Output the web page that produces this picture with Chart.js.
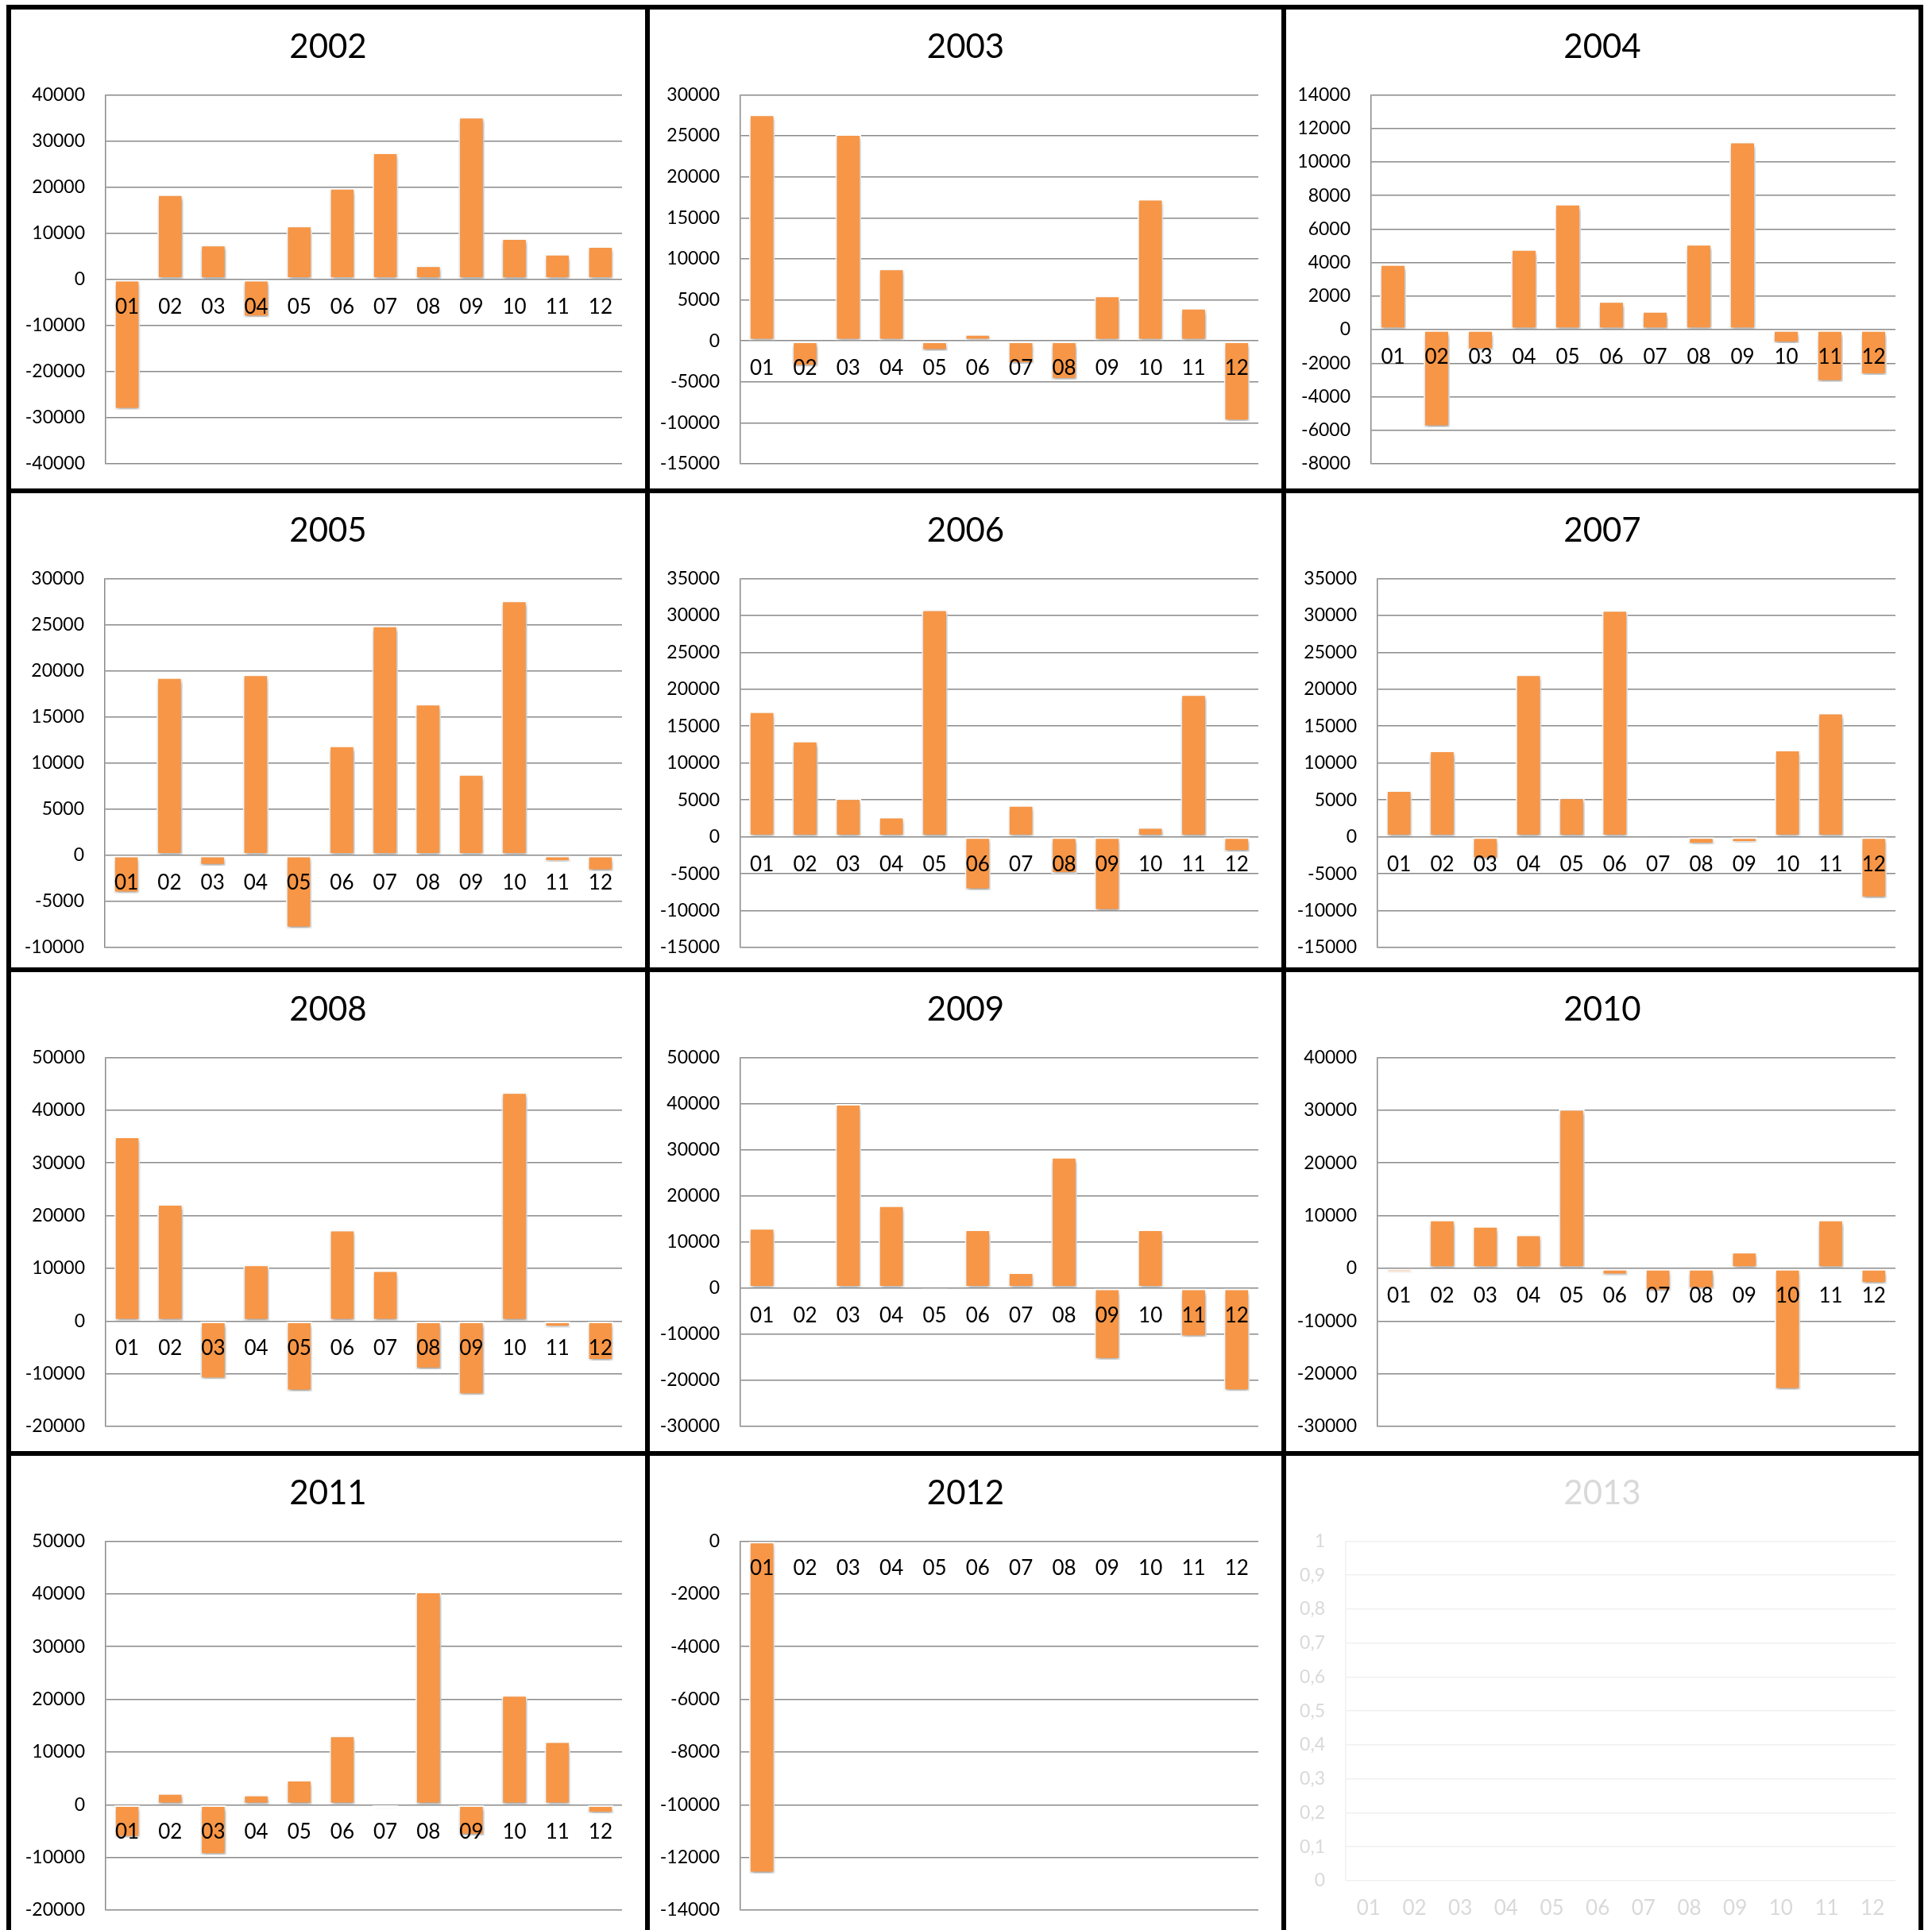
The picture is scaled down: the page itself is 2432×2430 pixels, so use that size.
<!DOCTYPE html>
<html>
<head>
<meta charset="utf-8">
<script src="https://cdn.jsdelivr.net/npm/chart.js@4.4.1/dist/chart.umd.min.js"></script>
<style>
  html, body { margin: 0; padding: 0; background: #fff; overflow: hidden; }
  .panel { position: absolute; box-sizing: border-box; border: 6px solid #000; background: #fff; }
  .panel canvas { position: absolute; left: 0; top: 0; }
</style>
</head>
<body>
<script>
// months on the x axis
var months = ['01','02','03','04','05','06','07','08','09','10','11','12']
var years = ['2002','2003','2004','2005','2006','2007','2008','2009','2010','2011','2012','2013']

// monthly values per year
var v2002 = [-28200, 18400, 7500, -8200, 11600, 19800, 27500, 3000, 35200, 8900, 5500, 7200]
var v2003 = [27600, -3100, 25200, 8800, -1200, 800, -2800, -4700, 5500, 17300, 4000, -9800]
var v2004 = [3900, -5800, -1200, 4800, 7500, 1700, 1100, 5100, 11200, -800, -3100, -2700]
var v2005 = [-4100, 19300, -1100, 19600, -7900, 11900, 24900, 16400, 8800, 27600, -700, -1700]
var v2006 = [17000, 13000, 5200, 2700, 30800, -7200, 4300, -5000, -10000, 1300, 19300, -2000]
var v2007 = [6300, 11700, -3000, 22000, 5300, 30700, 300, -1000, -800, 11800, 16800, -8300]
var v2008 = [35000, 22200, -11000, 10700, -13300, 17300, 9600, -9100, -14000, 43400, -1200, -7500]
var v2009 = [13000, 500, 39900, 17900, -300, 12700, 3400, 28400, -15500, 12700, -10600, -22300]
var v2010 = [-800, 9200, 8000, 6400, 30200, -1300, -4300, -3900, 3100, -23000, 9200, -2900]
var v2011 = [-6200, 2200, -9500, 1900, 4700, 13100, -600, 40400, -5800, 20800, 12000, -1600]
var v2012 = [-12600, null, null, null, null, null, null, null, null, null, null, null]
var v2013 = [null, null, null, null, null, null, null, null, null, null, null, null]
var series = [v2002, v2003, v2004, v2005, v2006, v2007, v2008, v2009, v2010, v2011, v2012, v2013]

// y axis ranges per year
var yMin = [-40000, -15000, -8000, -10000, -15000, -15000, -20000, -30000, -30000, -20000, -14000, 0]
var yMax = [40000, 30000, 14000, 30000, 35000, 35000, 50000, 50000, 40000, 50000, 0, 1]
var yStep = [10000, 5000, 2000, 5000, 5000, 5000, 10000, 10000, 10000, 10000, 2000, 0.1]

// page grid (border centre lines) and left edge of each plot inside its panel
var colX = [11, 815, 1616, 2418]
var rowY = [9, 618, 1221, 1830, 2439]
var plotLeft = [119, 114, 107, 118, 114, 115, 119, 114, 115, 119, 114, 75]
var BW = 6
var SIDE = 29
var FONT = 'Lato, "Open Sans", sans-serif'

var barShadow = {
  id: 'barShadow',
  beforeDatasetsDraw: function(chart) {
    var c = chart.ctx
    c.save()
    c.shadowColor = 'rgba(0,0,0,0.35)'
    c.shadowBlur = 5
    c.shadowOffsetX = 1
    c.shadowOffsetY = 3
  },
  afterDatasetsDraw: function(chart) { chart.ctx.restore() }
}

years.forEach(function(year, i) {
  var c = i % 3, r = Math.floor(i / 3)
  var div = document.createElement('div')
  div.className = 'panel'
  div.style.left = (colX[c] - BW / 2) + 'px'
  div.style.top = (rowY[r] - BW / 2) + 'px'
  div.style.width = (colX[c + 1] - colX[c] + BW) + 'px'
  div.style.height = (rowY[r + 1] - rowY[r] + BW) + 'px'
  document.body.appendChild(div)

  var w = colX[c + 1] - colX[c] - BW
  var h = rowY[r + 1] - rowY[r] - BW
  var cv = document.createElement('canvas')
  cv.width = w
  cv.height = h
  div.appendChild(cv)

  var empty = series[i].every(function(v) { return v === null })
  var txt = empty ? '#d9d9d9' : '#000'
  var grid = empty ? '#f0f0f0' : '#8a8a8a'
  var plotH = empty ? 428 : 465

  new Chart(cv, {
    type: 'bar',
    data: {
      labels: months,
      datasets: [{
        data: series[i],
        backgroundColor: '#F79646',
        borderColor: '#ffffff',
        borderWidth: 2,
        borderSkipped: false,
        barPercentage: 0.6,
        categoryPercentage: 1
      }]
    },
    options: {
      responsive: false,
      animation: false,
      devicePixelRatio: 1,
      layout: { padding: { left: 0, right: 0, top: 0, bottom: h - 107 - plotH } },
      plugins: {
        legend: { display: false },
        tooltip: { enabled: false },
        title: {
          display: true,
          text: year,
          color: txt,
          font: { family: FONT, size: 42, weight: 'normal', lineHeight: 1.2 },
          padding: { top: 22, bottom: 35 }
        }
      },
      scales: {
        x: {
          position: { y: 0 },
          grid: { display: false, drawTicks: false },
          border: { display: false },
          ticks: { z: 1, color: txt, padding: 19, maxRotation: 0, autoSkip: false,
                   font: { family: FONT, size: 26 } },
          afterFit: function(s) { s.paddingLeft = 0; s.paddingRight = 0 }
        },
        y: {
          min: yMin[i],
          max: yMax[i],
          grid: { color: grid, lineWidth: 1.5, drawTicks: false },
          border: { color: grid, width: 1.5 },
          ticks: {
            stepSize: yStep[i],
            color: txt,
            padding: 26,
            font: { family: FONT, size: 23 },
            callback: function(v) {
              var n = Math.round(v * 10) / 10
              return String(n).replace('.', ',')
            }
          },
          afterFit: function(s) { s.width = plotLeft[i]; s.paddingTop = 0; s.paddingBottom = 0 }
        },
        // empty right-hand spacer so the title stays centred on the panel
        spacer: {
          type: 'linear',
          position: 'right',
          grid: { display: false, drawTicks: false },
          border: { display: false },
          ticks: { display: false },
          afterFit: function(s) { s.width = SIDE; s.paddingTop = 0; s.paddingBottom = 0 }
        }
      }
    },
    plugins: [barShadow]
  })
})
</script>
</body>
</html>
